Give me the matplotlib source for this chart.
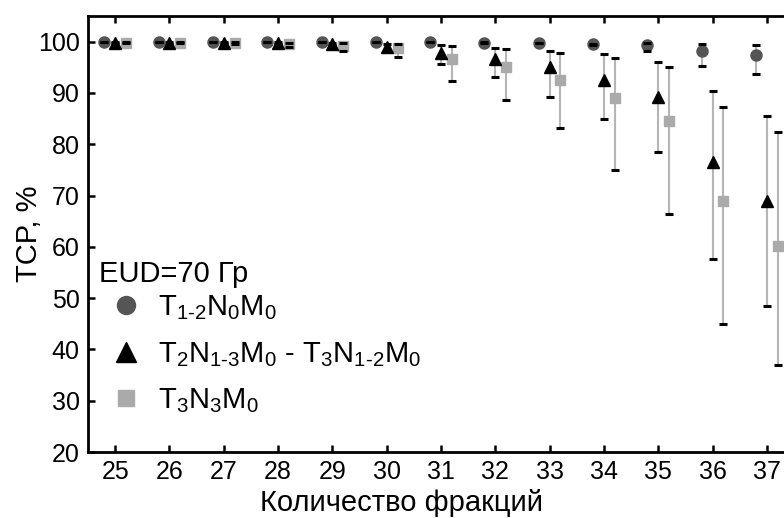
import numpy as np
import matplotlib
matplotlib.use('Agg')
import matplotlib.pyplot as plt
from matplotlib.lines import Line2D

plt.rcParams['font.family'] = ['Liberation Sans', 'DejaVu Sans']
plt.rcParams['mathtext.fontset'] = 'custom'
plt.rcParams['mathtext.rm'] = 'Liberation Sans'
plt.rcParams['mathtext.it'] = 'Liberation Sans:italic'
plt.rcParams['mathtext.bf'] = 'Liberation Sans:bold'

# fractions
fractions = np.arange(25, 38)

# T1-2 N0 M0
circ = [99.9, 99.9, 99.9, 99.9, 99.9, 99.9, 99.9, 99.8, 99.7, 99.5, 99.3, 98.1, 97.3]
circ_hi = [99.95, 99.95, 99.95, 99.95, 99.95, 99.95, 99.95, 99.85, 99.75, 99.6, 99.7, 99.6, 99.4]
circ_lo = [99.85, 99.85, 99.85, 99.85, 99.85, 99.85, 99.85, 99.75, 99.65, 99.3, 98.1, 95.2, 93.6]

# T2 N1-3 M0 - T3 N1-2 M0
tri = [99.8, 99.8, 99.8, 99.7, 99.6, 99.0, 97.8, 96.7, 95.0, 92.6, 89.3, 76.5, 69.0]
tri_hi = [99.9, 99.9, 99.9, 99.9, 99.8, 99.6, 99.4, 98.8, 98.1, 97.5, 96.0, 90.4, 85.6]
tri_lo = [99.7, 99.7, 99.7, 99.5, 99.3, 98.4, 95.6, 93.1, 89.3, 85.0, 78.5, 57.6, 48.4]

# T3 N3 M0
sq = [99.8, 99.8, 99.7, 99.5, 99.2, 98.8, 96.7, 95.0, 92.5, 89.0, 84.5, 69.0, 60.2]
sq_hi = [99.9, 99.9, 99.9, 99.8, 99.7, 99.6, 99.2, 98.6, 97.8, 96.9, 95.1, 87.3, 82.4]
sq_lo = [99.7, 99.7, 99.5, 99.0, 98.2, 97.1, 92.4, 88.7, 83.2, 75.0, 66.4, 45.0, 36.9]

labels = [r'$\mathregular{T_{1\text{-}2}N_0M_0}$',
          r'$\mathregular{T_2N_{1\text{-}3}M_0}$ - $\mathregular{T_3N_{1\text{-}2}M_0}$',
          r'$\mathregular{T_3N_3M_0}$']

fig = plt.figure(figsize=(7.84, 5.18), dpi=100)
ax = fig.add_axes([88 / 784, 66 / 518, 706 / 784, 436 / 518])

series = [
    (sq, sq_lo, sq_hi, 0.2, 's', '#aaaaaa', 7.5),
    (tri, tri_lo, tri_hi, 0.0, '^', 'black', 8),
    (circ, circ_lo, circ_hi, -0.2, 'o', '#555555', 8),
]
z = 3
for vals, lo, hi, dx, mk, col, ms in series:
    vals = np.array(vals)
    yerr = [vals - np.array(lo), np.array(hi) - vals]
    _, caps, bars = ax.errorbar(fractions + dx, vals, yerr=yerr, fmt=mk, color=col,
                                ms=ms, mec=col, ecolor='#b5b5b5', elinewidth=1.5,
                                capsize=3.2, capthick=2.2, zorder=z)
    for c in caps:
        c.set_color('black')
        c.set_markeredgecolor('black')
        c.set_zorder(z + 0.5)
    z += 1

ax.set_xlim(24.5, 37.5)
ax.set_ylim(20, 105)
ax.set_xticks(fractions)
ax.set_yticks(np.arange(20, 101, 10))
ax.tick_params(direction='in', length=5, width=1.8, labelsize=18, top=True, pad=6)
for s in ax.spines.values():
    s.set_linewidth(2)
ax.spines['right'].set_visible(False)

ax.set_xlabel('Количество фракций', fontsize=21)
ax.xaxis.set_label_coords((402 - 88) / 706, -0.085)
ax.set_ylabel('TCP, %', fontsize=21, labelpad=-4)

handles = [Line2D([], [], ls='none', marker='o', color='#555555', ms=13),
           Line2D([], [], ls='none', marker='^', color='black', ms=14),
           Line2D([], [], ls='none', marker='s', color='#aaaaaa', ms=12)]
leg = ax.legend(handles, labels, title='EUD=70 Гр', loc='lower left',
                bbox_to_anchor=(0.015, 0.085), frameon=False, fontsize=21,
                title_fontsize=21, handlelength=1.9, handletextpad=0.15,
                labelspacing=0.6, borderpad=0, borderaxespad=0, alignment='left')
leg._legend_box.sep = 21 * 0.2

fig.savefig('out.png', dpi=100)
